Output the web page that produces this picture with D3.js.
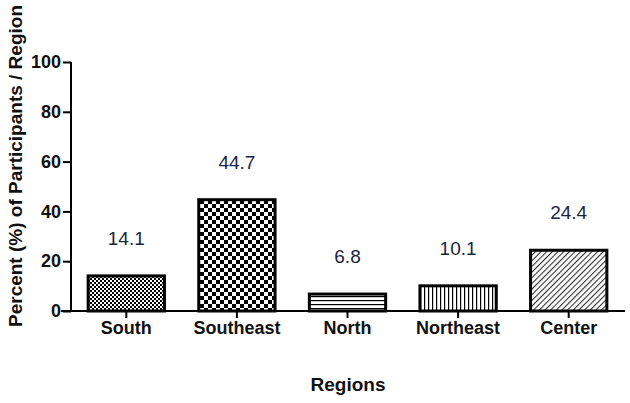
<!DOCTYPE html>
<html>
<head>
<meta charset="utf-8">
<script src="https://cdn.jsdelivr.net/npm/d3@7"></script>
<style>
  body { margin: 0; background: #fff; }
  svg { font-family: "Liberation Sans", Arial, sans-serif; }
</style>
</head>
<body>
<div class="main"></div>
<script>
let regions = ['South', 'Southeast', 'North', 'Northeast', 'Center']
let percents = [14.1, 44.7, 6.8, 10.1, 24.4]
let patternIds = ['fineCheck', 'bigCheck', 'hLines', 'vLines', 'diag']
let yTicks = [0, 20, 40, 60, 80, 100]

let width = 630, height = 403
let svg = d3.select('.main').append('svg')
  .attr('width', width).attr('height', height)

let defs = svg.append('defs')

// small checkerboard
let p1 = defs.append('pattern').attr('id', 'fineCheck')
  .attr('patternUnits', 'userSpaceOnUse').attr('width', 4).attr('height', 4)
p1.append('rect').attr('width', 4).attr('height', 4).attr('fill', '#fff')
p1.append('rect').attr('width', 2).attr('height', 2).attr('fill', '#000')
p1.append('rect').attr('x', 2).attr('y', 2).attr('width', 2).attr('height', 2).attr('fill', '#000')

// large checkerboard
let p2 = defs.append('pattern').attr('id', 'bigCheck')
  .attr('patternUnits', 'userSpaceOnUse').attr('width', 8).attr('height', 8)
p2.append('rect').attr('width', 8).attr('height', 8).attr('fill', '#fff')
p2.append('rect').attr('width', 4).attr('height', 4).attr('fill', '#000')
p2.append('rect').attr('x', 4).attr('y', 4).attr('width', 4).attr('height', 4).attr('fill', '#000')

// horizontal lines
let p3 = defs.append('pattern').attr('id', 'hLines')
  .attr('patternUnits', 'userSpaceOnUse').attr('width', 4).attr('height', 4)
p3.append('rect').attr('width', 4).attr('height', 4).attr('fill', '#fff')
p3.append('rect').attr('y', 0).attr('width', 4).attr('height', 1.2).attr('fill', '#000')

// vertical lines
let p4 = defs.append('pattern').attr('id', 'vLines')
  .attr('patternUnits', 'userSpaceOnUse').attr('width', 4).attr('height', 4)
p4.append('rect').attr('width', 4).attr('height', 4).attr('fill', '#fff')
p4.append('rect').attr('x', 0).attr('width', 1.2).attr('height', 4).attr('fill', '#000')

// diagonal hatch
let p5 = defs.append('pattern').attr('id', 'diag')
  .attr('patternUnits', 'userSpaceOnUse').attr('width', 4).attr('height', 4)
  .attr('patternTransform', 'rotate(45)')
p5.append('rect').attr('width', 4).attr('height', 4).attr('fill', '#fff')
p5.append('rect').attr('x', 0).attr('width', 1.1).attr('height', 4).attr('fill', '#333')

let x0 = 71, x1 = 624, yTop = 62, yBottom = 311

let xScale = d3.scaleBand()
  .domain(regions)
  .range([x0, x1])
  .paddingInner(0.31)
  .paddingOuter(0.155)

let yScale = d3.scaleLinear()
  .domain([0, 100])
  .range([yBottom, yTop])

// bars
svg.append('g').selectAll('rect').data(regions).enter().append('rect')
  .attr('x', d => xScale(d))
  .attr('y', (d, i) => yScale(percents[i]))
  .attr('width', xScale.bandwidth())
  .attr('height', (d, i) => yBottom - yScale(percents[i]))
  .attr('fill', (d, i) => `url(#${patternIds[i]})`)
  .attr('stroke', '#000')
  .attr('stroke-width', 3)

// value labels
svg.append('g').selectAll('text').data(regions).enter().append('text')
  .attr('x', d => xScale(d) + xScale.bandwidth() / 2)
  .attr('y', (d, i) => yScale(percents[i]) - 31)
  .attr('text-anchor', 'middle')
  .attr('font-size', 19)
  .attr('fill', '#1a2540')
  .text((d, i) => percents[i])

// y axis
let yAxis = d3.axisLeft(yScale).tickValues(yTicks).tickSize(8).tickPadding(2)
let gy = svg.append('g')
  .attr('transform', `translate(${x0}, 0)`)
  .call(yAxis)
gy.select('.domain').attr('stroke-width', 2).attr('d', `M0,${yTop}V${yBottom}`)
gy.selectAll('.tick line').attr('stroke-width', 2)
gy.selectAll('.tick text').attr('font-size', 18).attr('font-weight', 'bold')
  .attr('font-family', '"Liberation Sans", Arial, sans-serif').attr('fill', '#111')

// x axis
let xAxis = d3.axisBottom(xScale).tickSize(7).tickPadding(3)
let gx = svg.append('g')
  .attr('transform', `translate(0, ${yBottom})`)
  .call(xAxis)
gx.select('.domain').attr('stroke-width', 2).attr('d', `M61,0H625`)
gx.selectAll('.tick line').attr('stroke-width', 2)
gx.selectAll('.tick text').attr('font-size', 18).attr('font-weight', 'bold')
  .attr('font-family', '"Liberation Sans", Arial, sans-serif').attr('fill', '#111')

// axis titles
svg.append('text')
  .attr('x', 348).attr('y', 391)
  .attr('text-anchor', 'middle')
  .attr('font-size', 19).attr('font-weight', 'bold').attr('fill', '#111')
  .text('Regions')

svg.append('text')
  .attr('transform', 'translate(22, 166) rotate(-90)')
  .attr('text-anchor', 'middle')
  .attr('font-size', 19).attr('font-weight', 'bold').attr('fill', '#111')
  .text('Percent (%) of Participants / Region')
</script>
</body>
</html>
